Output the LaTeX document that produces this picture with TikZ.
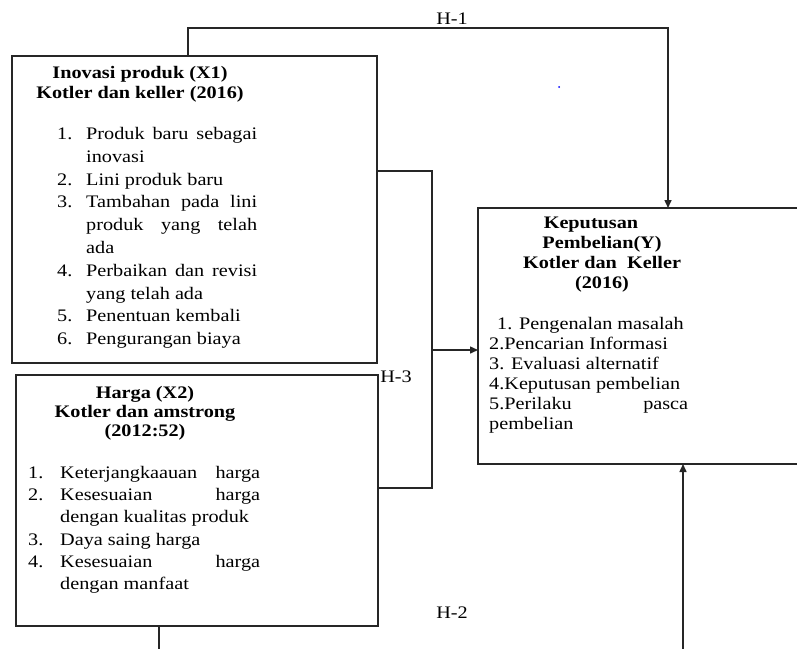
\documentclass[tikz,border=0pt]{standalone}
\usepackage{fontspec}
\setmainfont{Liberation Serif}[FakeStretch=1.15]
\usetikzlibrary{arrows.meta}
\newcommand\jst[2]{\makebox[#1][s]{#2}}
\newcommand\numi[1]{\makebox[29pt][l]{#1}}
\newcommand\numii[1]{\makebox[32pt][l]{#1}}
\begin{document}
\begin{tikzpicture}[x=1pt,y=-1pt,
  box/.style={draw=black!85,line width=1.5pt,anchor=north west,inner sep=0pt,outer sep=0pt},
  conn/.style={draw=black!85,line width=1.5pt},
  arr/.style={conn,-{Triangle[length=8pt,width=7pt]}},
  txt/.style={inner sep=0pt,anchor=north west,align=left,text=black,font=\fontsize{17.6}{22.8}\selectfont},
  ttl/.style={inner sep=0pt,anchor=north,align=center,text=black,font=\bfseries\fontsize{17.6}{20}\selectfont},
  lbl/.style={inner sep=0pt,text=black,font=\fontsize{17.6}{20}\selectfont}]
\useasboundingbox (0,0) rectangle (797,648);

% boxes
\node[box,minimum width=365pt,minimum height=307pt] (x1) at (12,56) {};
\node[box,minimum width=362pt,minimum height=251pt] (x2) at (16,375) {};
\node[box,minimum width=340pt,minimum height=256pt] (y) at (478,208) {};

% X1 texts
\node[ttl] (x1t) at (140,66) {Inovasi produk (X1)\\Kotler dan keller (2016)};
\node[txt] (x1l) at (57,127) {%
\numi{1.}\jst{171pt}{Produk baru sebagai}\\
\numi{}inovasi\\
\numi{2.}Lini produk baru\\
\numi{3.}\jst{171pt}{Tambahan pada lini}\\
\numi{}\jst{171pt}{produk yang telah}\\
\numi{}ada\\
\numi{4.}\jst{171pt}{Perbaikan dan revisi}\\
\numi{}yang telah ada\\
\numi{5.}Penentuan kembali\\
\numi{6.}Pengurangan biaya};

% X2 texts
\node[ttl,font=\bfseries\fontsize{17.6}{19}\selectfont] (x2t) at (145,386) {Harga (X2)\\Kotler dan amstrong\\(2012:52)};
\node[txt,font=\fontsize{17.6}{22.2}\selectfont] (x2l) at (28,466) {%
\numii{1.}\jst{200pt}{Keterjangkaauan harga}\\
\numii{2.}\jst{200pt}{Kesesuaian harga}\\
\numii{}dengan kualitas produk\\
\numii{3.}Daya saing harga\\
\numii{4.}\jst{200pt}{Kesesuaian harga}\\
\numii{}dengan manfaat};

% Y texts
\node[ttl] (yt) at (602,217) {Keputusan\hspace*{22pt}\\Pembelian(Y)\\Kotler dan\ \ Keller\\(2016)};
\node[txt,font=\fontsize{17.6}{20}\selectfont] (yl) at (489,317) {%
\hspace*{8pt}1. Pengenalan masalah\\
2.Pencarian Informasi\\
3. Evaluasi alternatif\\
4.Keputusan pembelian\\
\jst{199pt}{5.Perilaku pasca}\\
pembelian};

% connectors
\coordinate (h1x) at (188,28);
\coordinate (h1y) at (668,28);
\draw[arr] (x1.north -| h1x) -- (h1x) -- (h1y) -- (y.north -| h1y);
\node[lbl] (h1) at (452,19) {H-1};

\coordinate (h3t) at (432,171);
\coordinate (h3b) at (432,488);
\coordinate (h3m) at (432,350);
\draw[conn] (x1.east |- h3t) -- (h3t) -- (h3b) -- (x2.east |- h3b);
\draw[arr] (h3m) -- (y.west |- h3m);
\node[lbl] (h3) at (396,377) {H-3};

\coordinate (h2a) at (159,660);
\coordinate (h2b) at (683,660);
\draw[conn] (x2.south -| h2a) -- (h2a);
\draw[arr] (h2b) -- (y.south -| h2b);
\node[lbl] (h2) at (452,613) {H-2};

\fill[blue] (559,87) circle (1pt);
\end{tikzpicture}
\end{document}
